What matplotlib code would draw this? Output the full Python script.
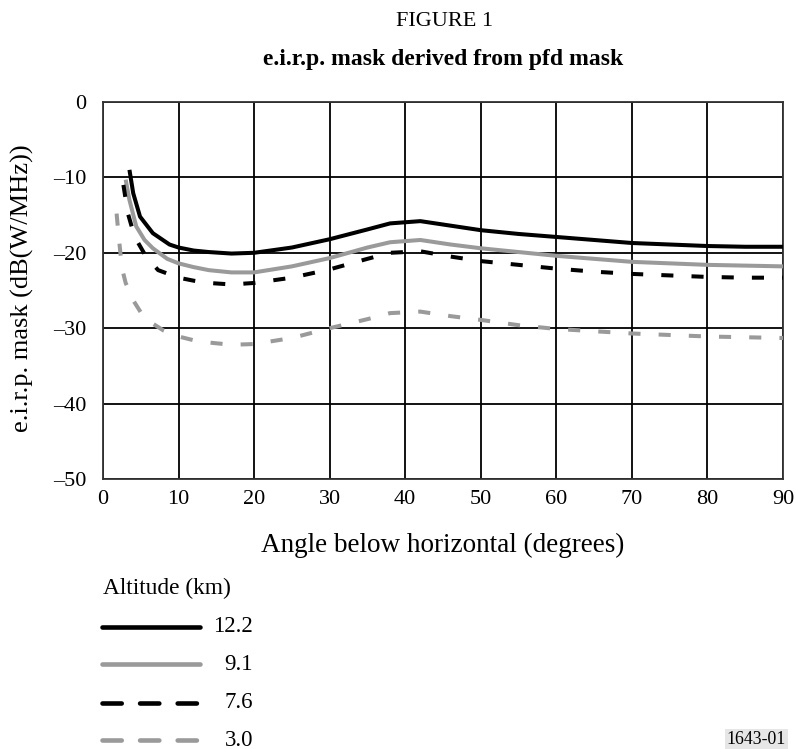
import matplotlib
matplotlib.use("Agg")
import matplotlib.pyplot as plt
from matplotlib.lines import Line2D

plt.rcParams['font.family'] = ['Liberation Serif', 'DejaVu Serif']

# ---- data ----
alt_labels = ["12.2", "9.1", "7.6", "3.0"]

x_122 = [3.5, 4.0, 4.9, 6.6, 8.8, 10, 12, 14, 17, 20, 25, 30, 35, 38, 42, 46, 50, 55, 60, 65, 70, 75, 80, 85, 90]
y_122 = [-9.0, -12.1, -15.2, -17.4, -18.9, -19.3, -19.7, -19.9, -20.1, -20.0, -19.3, -18.2, -16.9, -16.1, -15.8,
         -16.4, -17.0, -17.5, -17.9, -18.3, -18.7, -18.9, -19.1, -19.2, -19.2]

x_91 = [3.0, 3.5, 4.4, 5.5, 6.6, 8.5, 10, 12, 14, 17, 20, 25, 30, 35, 38, 42, 46, 50, 55, 60, 65, 70, 75, 80, 85, 90]
y_91 = [-10.3, -13.0, -16.5, -18.3, -19.4, -20.8, -21.4, -21.9, -22.3, -22.6, -22.6, -21.8, -20.7, -19.3, -18.6,
        -18.3, -18.9, -19.4, -19.9, -20.4, -20.8, -21.2, -21.4, -21.6, -21.7, -21.8]

x_76 = [2.7, 3.3, 4.2, 5.7, 7.3, 10, 12, 14, 17, 20, 25, 30, 35, 38, 42, 46, 50, 55, 60, 65, 70, 75, 80, 85, 90]
y_76 = [-11.0, -14.8, -17.9, -20.5, -22.3, -23.3, -23.7, -24.0, -24.2, -24.0, -23.3, -22.2, -20.8, -20.0, -19.8,
        -20.5, -21.1, -21.6, -22.1, -22.5, -22.8, -23.0, -23.2, -23.3, -23.3]

x_30 = [1.8, 2.0, 2.2, 2.5, 3.0, 4.0, 5.0, 6.6, 8.0, 10, 12, 14, 17, 20, 25, 30, 35, 38, 42, 46, 50, 55, 60, 65,
        70, 75, 80, 85, 90]
y_30 = [-14.8, -17.0, -19.0, -22.0, -24.0, -26.3, -27.9, -29.4, -30.3, -31.1, -31.6, -31.9, -32.2, -32.1, -31.3,
        -30.0, -28.8, -28.0, -27.8, -28.4, -28.9, -29.6, -30.1, -30.4, -30.7, -30.9, -31.1, -31.2, -31.3]

x_ticks = [0, 10, 20, 30, 40, 50, 60, 70, 80, 90]
y_ticks = [0, -10, -20, -30, -40, -50]

# ---- styles ----
W, H = 796, 749
GRAY = '#9a9a9a'
LW = 2.9
DASH = (3.0, 4.5)
styles = [
    dict(color='black', lw=LW, ls='-'),
    dict(color=GRAY, lw=LW, ls='-'),
    dict(color='black', lw=LW, ls=(0, DASH)),
    dict(color=GRAY, lw=LW, ls=(0, DASH)),
]
series = [(x_122, y_122), (x_91, y_91), (x_76, y_76), (x_30, y_30)]


def fx(px):
    return px / W


def fy(py):
    return 1 - py / H


fig = plt.figure(figsize=(W / 100, H / 100), dpi=100)
ax = fig.add_axes([fx(103), fy(479), (783 - 103) / W, (479 - 102) / H])

for (xs, ys), st in zip(series, styles):
    ax.plot(xs, ys, color=st['color'], lw=st['lw'], ls=st['ls'],
            solid_capstyle='butt', dash_capstyle='butt', zorder=3)

ax.set_xlim(0, 90)
ax.set_ylim(-50, 0)
ax.set_xticks(x_ticks)
ax.set_yticks(y_ticks)
ax.set_yticklabels([str(v).replace('-', '\u2013') for v in y_ticks])
ax.grid(True, color='black', lw=1.3)
ax.set_axisbelow(True)
for s in ax.spines.values():
    s.set_color('#333333')
    s.set_linewidth(1.3)
ax.tick_params(axis='both', length=0, labelsize=16)
ax.tick_params(axis='y', pad=12)
ax.tick_params(axis='x', pad=8)

fig.text(fx(445), fy(22), "FIGURE 1", ha='center', va='center', fontsize=16)
fig.text(fx(443), fy(60), "e.i.r.p. mask derived from pfd mask", ha='center', va='center',
         fontsize=17, fontweight='bold')
fig.text(fx(443), fy(545), "Angle below horizontal (degrees)", ha='center', va='center', fontsize=19.5)
fig.text(fx(22), fy(288), "e.i.r.p. mask (dB(W/MHz))", ha='center', va='center', fontsize=19,
         rotation=90)

# legend (manual)
fig.text(fx(103), fy(588), "Altitude (km)", ha='left', va='center', fontsize=16.8)
leg_y = [627, 664, 703, 740]
for lab, st, py in zip(alt_labels, styles, leg_y):
    ls = st['ls'] if st['ls'] == '-' else (0, (4.2, 4.0))
    fig.add_artist(Line2D([fx(102), fx(200)], [fy(py), fy(py)], transform=fig.transFigure,
                          color=st['color'], lw=3.3, ls=ls, solid_capstyle='round',
                          dash_capstyle='round'))
    fig.text(fx(253), fy(py), lab, ha='right', va='center', fontsize=16.5)

fig.text(fx(786), fy(740), "1643-01", ha='right', va='center', fontsize=12.8,
         bbox=dict(facecolor='#e6e6e6', edgecolor='none', pad=1.5))

fig.savefig("out.png", dpi=100)
